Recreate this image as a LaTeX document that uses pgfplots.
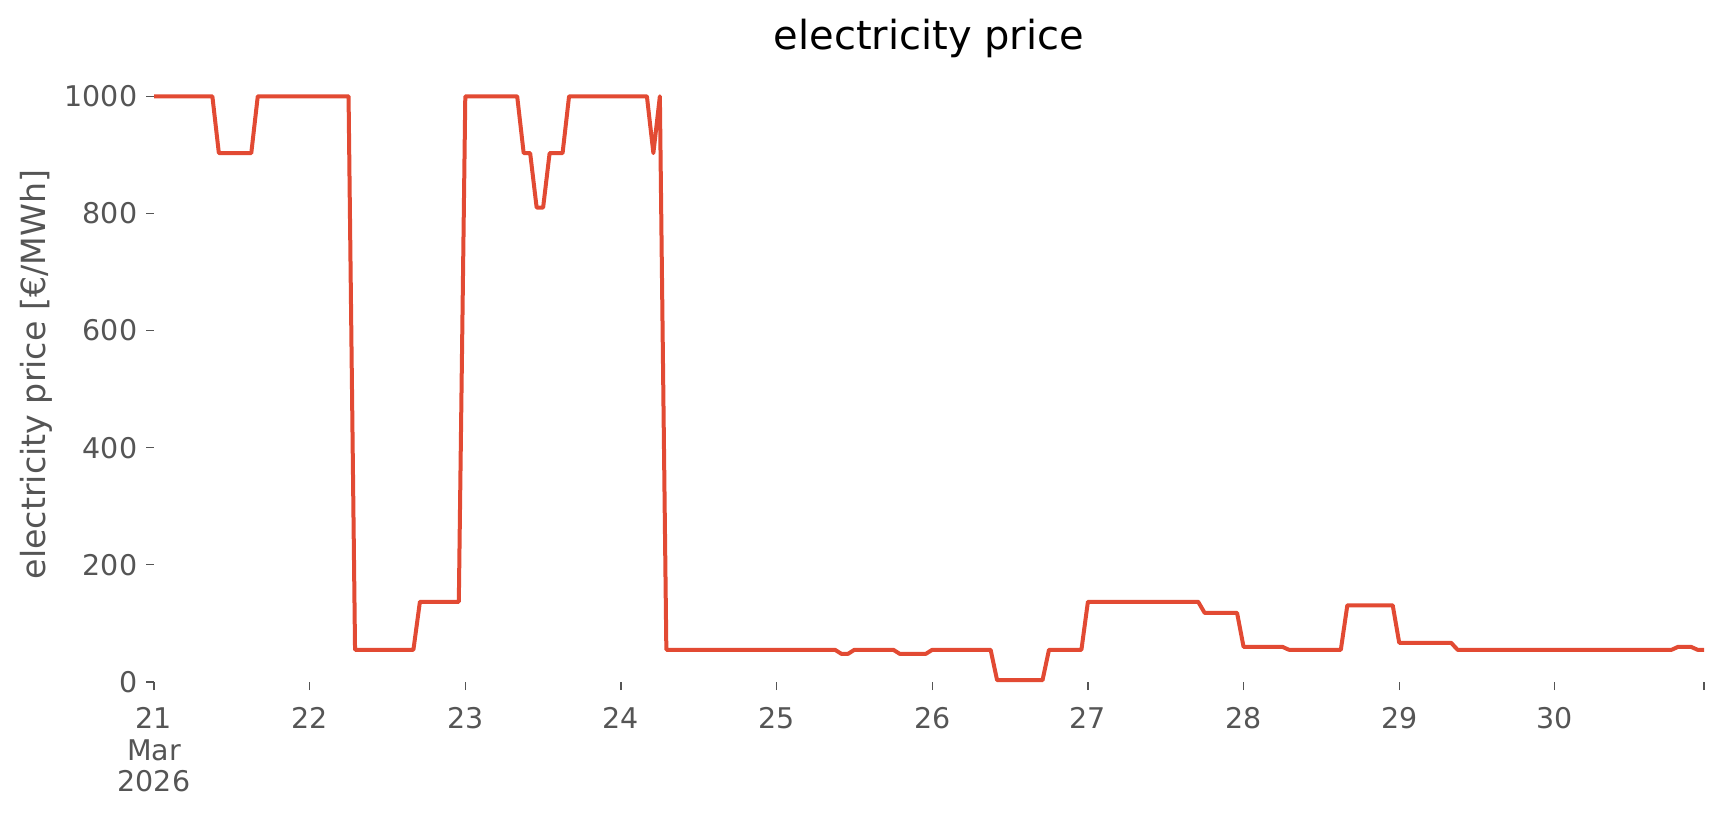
\documentclass[border=0pt]{standalone}
\usepackage{fontspec}
\setmainfont{DejaVu Sans}
\usepackage{pgfplots}
\usepackage{pgfplotstable}
\pgfplotsset{compat=1.18}

\definecolor{priceline}{HTML}{E24A33}
\definecolor{tickgray}{HTML}{555555}

% hourly prices from 21 Mar 2026 00:00 (h = hours since start); only the change points
\pgfplotstableread{
h   price
0   1000
9   1000
10  903
15  903
16  1000
30  1000
31  55
40  55
41  137
47  137
48  1000
56  1000
57  903
58  903
59  810
60  810
61  903
63  903
64  1000
76  1000
77  903
78  1000
79  55
105 55
106 48
107 48
108 55
114 55
115 48
119 48
120 55
129 55
130 3
137 3
138 55
143 55
144 137
161 137
162 118
167 118
168 60
174 60
175 55
183 55
184 131
191 131
192 67
200 67
201 55
234 55
235 60
237 60
238 55
239 55
}\pricedata

\begin{document}
\begin{tikzpicture}
\begin{axis}[
    name=ax,
    scale only axis,
    width=620pt, height=246pt,
    xmin=0, xmax=239,
    ymin=0, ymax=1050,
    axis line style={draw=none},
    tick pos=left,
    tick align=outside,
    major tick length=3.2pt,
    tick style={color=tickgray, line width=0.5pt},
    xtick={0,24,...,216},
    extra x ticks={239},
    extra x tick labels={},
    xticklabels={{21\\Mar\\2026},22,23,24,25,26,27,28,29,30},
    ytick={0,200,...,1000},
    /pgf/number format/1000 sep={},
    /pgf/number format/assume math mode=true,
    ticklabel style={font=\fontsize{11.4}{12.6}\selectfont, text=tickgray},
    xticklabel style={align=center, yshift=-3.6pt},
]
\addplot[priceline, line width=1.6pt, line join=round] table[x=h, y=price] {\pricedata};
\end{axis}
\node[rotate=90, text=tickgray, font=\fontsize{13.3}{16}\selectfont] at ([xshift=-47.2pt]ax.west) {electricity price [€/MWh]};
\node[font=\fontsize{16}{19}\selectfont] at ([yshift=11.4pt]ax.north) {electricity price};
\path ([xshift=-61.6pt,yshift=-53.2pt]ax.south west) rectangle ([xshift=8pt,yshift=26.8pt]ax.north east);
\end{tikzpicture}
\end{document}
